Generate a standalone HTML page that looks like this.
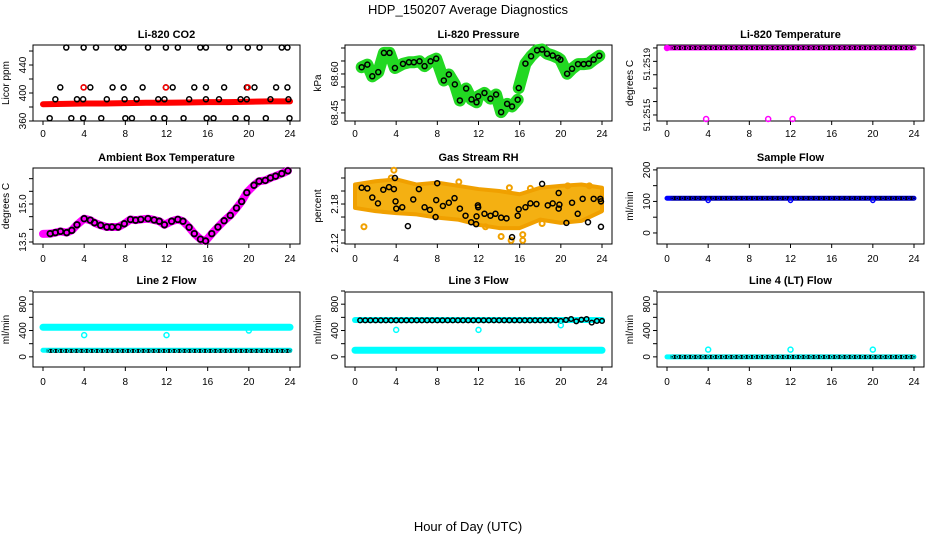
<!DOCTYPE html>
<html><head><meta charset="utf-8"><style>
html,body{margin:0;padding:0;background:#fff}
svg{display:block;font-family:"Liberation Sans",sans-serif}
</style></head><body>
<svg id="chart" width="936" height="540" viewBox="0 0 936 540" xmlns="http://www.w3.org/2000/svg">
<text x="468" y="14" text-anchor="middle" font-size="13">HDP_150207  Average Diagnostics</text>
<text x="468" y="531" text-anchor="middle" font-size="13">Hour of Day (UTC)</text>
</svg>
<script>
// ---------- DATA ----------
const hourTicks = [0,4,8,12,16,20,24];
const hrs = [0.5,1,1.5,2,2.5,3,3.5,4,4.5,5,5.5,6,6.5,7,7.5,8,8.5,9,9.5,10,10.5,11,11.5,12,12.5,13,13.5,14,14.5,15,15.5,16,16.5,17,17.5,18,18.5,19,19.5,20,20.5,21,21.5,22,22.5,23,23.5,24];
// CO2
const co2BandHours = [0,2,4,6,8,10,12,14,16,18,20,22,24];
const co2BandVals = [384,384.5,385,385,385.5,386,386,386.5,387,387,387.5,388,388];
const co2PtHours = [2.26,3.95,5.15,7.25,7.83,10.2,11.94,13.1,15.28,15.83,18.1,19.9,21.04,23.2,23.75,
 1.68,3.95,4.6,6.76,7.83,9.68,11.94,12.6,14.7,15.83,17.6,19.8,20.55,22.65,23.75,
 1.2,3.3,3.9,6.2,7.93,9.1,11.2,11.8,14.2,15.83,17.1,19.2,19.8,22.1,23.85,
 0.65,2.75,3.9,5.66,8,8.64,10.74,11.8,13.66,15.9,16.57,18.7,19.8,21.65,23.95];
const co2PtVals = [465,465,465,465,465,465,465,465,465,465,465,465,465,465,465,
 408,408,408,408,408,408,408,408,408,408,408,408,408,408,408,
 391,391,391,391,391,391,391,391,391,391,391,391,391,391,391,
 364,364,364,364,364,364,364,364,364,364,364,364,364,364,364];
const co2RedHours = [3.95,11.94,19.9];
const co2RedVals = [408,408,408];
// Pressure
const presHours = [0.65,1.2,1.68,2.26,2.81,3.36,3.88,4.66,5.24,5.72,6.27,6.76,7.34,7.89,8.63,9.12,9.70,10.19,10.80,11.32,11.81,11.97,12.58,13.16,13.71,14.2,14.78,15.26,15.81,15.91,16.56,17.11,17.69,18.18,18.66,19.21,19.73,19.96,20.61,21.09,21.67,22.22,22.71,23.19,23.74];
const presVals = [68.626,68.636,68.591,68.607,68.681,68.681,68.623,68.639,68.645,68.645,68.649,68.630,68.649,68.659,68.575,68.598,68.560,68.498,68.544,68.502,68.491,68.514,68.527,68.505,68.521,68.453,68.485,68.475,68.501,68.546,68.640,68.668,68.691,68.694,68.678,68.671,68.662,68.655,68.601,68.620,68.638,68.638,68.640,68.655,68.670];
// Li-820 temperature
const tempTop = [51.2519,51.2519,51.2519,51.2519,51.2519,51.2519,51.2519,51.2519,51.2519,51.2519,51.2519,51.2519,51.2519,51.2519,51.2519,51.2519,51.2519,51.2519,51.2519,51.2519,51.2519,51.2519,51.2519,51.2519,51.2519,51.2519,51.2519,51.2519,51.2519,51.2519,51.2519,51.2519,51.2519,51.2519,51.2519,51.2519,51.2519,51.2519,51.2519,51.2519,51.2519,51.2519,51.2519,51.2519,51.2519,51.2519,51.2519,51.2519];
const tempOutHours = [0,3.8,9.83,12.2];
const tempOutVals = [51.2519,51.25137,51.25137,51.25137];
// Ambient box temperature
const ambHours = [0.7,1.2,1.7,2.3,2.8,3.3,4.0,4.6,5.0,5.6,6.2,6.7,7.3,7.9,8.5,9.0,9.5,10.2,10.8,11.3,11.8,12.5,13.1,13.6,14.2,14.7,15.3,15.8,16.4,17.0,17.6,18.2,18.8,19.3,19.8,20.5,21.0,21.6,22.1,22.6,23.2,23.8];
const ambVals = [13.83,13.87,13.92,13.87,13.96,14.18,14.42,14.36,14.26,14.16,14.09,14.09,14.09,14.22,14.39,14.36,14.39,14.42,14.37,14.32,14.18,14.32,14.39,14.32,14.08,13.83,13.61,13.54,13.83,14.09,14.34,14.55,14.84,15.10,15.45,15.74,15.90,15.93,16.03,16.10,16.20,16.31];
// Gas stream RH
const rhEnvHours = [0,2,4,6,8,10,12,14,16,18,20,22,24];
const rhUpper = [2.210,2.215,2.218,2.210,2.213,2.208,2.203,2.200,2.195,2.205,2.208,2.210,2.205];
const rhLower = [2.174,2.169,2.166,2.164,2.159,2.156,2.148,2.143,2.143,2.156,2.151,2.154,2.169];
const rhOrangeHours = [0.87,3.78,3.52,10.09,14.2,15.17,16.3,16.3,15.0,17.04,20.67,22.77,18.18,12.68];
const rhOrangeVals = [2.145,2.232,2.220,2.214,2.130,2.124,2.133,2.124,2.205,2.204,2.208,2.208,2.150,2.145];
const rhPtHours = [0.65,1.2,1.68,2.23,2.75,3.3,3.78,3.88,3.94,4.01,4.59,5.14,5.66,6.21,6.76,7.28,7.83,7.89,7.99,8.54,9.12,9.67,10.19,10.74,11.29,11.77,11.81,11.94,11.97,12.58,13.16,13.65,14.2,14.72,15.26,15.81,15.91,16.56,17.04,17.63,18.18,18.73,19.21,19.79,19.79,19.86,20.54,21.09,21.64,22.12,22.64,23.19,23.84,23.90,23.90];
const rhPtVals = [2.205,2.204,2.190,2.181,2.202,2.206,2.203,2.220,2.184,2.173,2.175,2.146,2.187,2.203,2.175,2.171,2.160,2.186,2.212,2.177,2.182,2.189,2.173,2.162,2.152,2.149,2.161,2.178,2.175,2.165,2.162,2.165,2.159,2.158,2.129,2.162,2.172,2.175,2.181,2.180,2.211,2.178,2.181,2.197,2.173,2.179,2.151,2.182,2.165,2.188,2.152,2.188,2.188,2.184,2.145];
// Sample flow
const sampleVals = [110,110,110,110,110,110,110,110,110,110,110,110,110,110,110,110,110,110,110,110,110,110,110,110,110,110,110,110,110,110,110,110,110,110,110,110,110,110,110,110,110,110,110,110,110,110,110,110];
const sampleOutHours = [4,12,20];
const sampleOutVals = [103,103,103];
// Line 2 flow
const l2High = 450, l2Low = 100;
const l2Black = [90,90,90,90,90,90,90,90,90,90,90,90,90,90,90,90,90,90,90,90,90,90,90,90,90,90,90,90,90,90,90,90,90,90,90,90,90,90,90,90,90,90,90,90,90,90,90,90];
const l2OutHours = [4,12,20];
const l2OutVals = [330,330,400];
// Line 3 flow
const l3High = 560, l3Low = 100;
const l3Black = [555,555,555,555,555,555,555,555,555,555,555,555,555,555,555,555,555,555,555,555,555,555,555,555,555,555,555,555,555,555,555,555,555,555,555,555,555,555,555,545,560,575,540,565,575,520,545,545];
const l3OutHours = [4,12,20];
const l3OutVals = [410,410,480];
// Line 4 flow
const l4Black = [0,0,0,0,0,0,0,0,0,0,0,0,0,0,0,0,0,0,0,0,0,0,0,0,0,0,0,0,0,0,0,0,0,0,0,0,0,0,0,0,0,0,0,0,0,0,0,0];
const l4OutHours = [4,12,20];
const l4OutVals = [110,110,110];

// ---------- DRAWING ----------
const svg = document.getElementById('chart');
const NS = 'http://www.w3.org/2000/svg';
function mk(tag, attrs, parent){
  const e = document.createElementNS(NS, tag);
  for (const k in attrs) e.setAttribute(k, attrs[k]);
  (parent||svg).appendChild(e);
  return e;
}
const colL = [33,345,657], W = 267;
const rowT = [45,168,292], rowB = [121,244,367];
const tickLabY = [137,262,385], titleY = [38,161,284];

function panel(c, r, name, title, ylab, vb, vt, yticks, ylabels, anchors, fs){
  const g = mk('g', {});
  
  
  const L = colL[c], T = rowT[r], B = rowB[r];
  const sx = h => L + 10 + h * (247/24);
  const sy = v => B - (v - vb) / (vt - vb) * (B - T);
  const box = mk('rect', {x:L, y:T, width:W, height:B-T, fill:'none', stroke:'#000', 'stroke-width':1}, g);
  
  
  const t = mk('text', {x:L+W/2, y:titleY[r], 'text-anchor':'middle', 'font-size':11, 'font-weight':'bold'}, g);
  t.textContent = title;
  
  
  const yl = mk('text', {transform:`translate(${L-24},${(T+B)/2}) rotate(-90)`, 'text-anchor':'middle', 'font-size':10}, g);
  yl.textContent = ylab;
  
  
  hourTicks.forEach(h => {
    mk('line', {x1:sx(h), x2:sx(h), y1:B, y2:B+4, stroke:'#000'}, g);
    const tl = mk('text', {x:sx(h), y:tickLabY[r], 'text-anchor':'middle', 'font-size':10}, g);
    tl.textContent = h;
    
    
  });
  yticks.forEach((v,i) => {
    mk('line', {x1:L-4, x2:L, y1:sy(v), y2:sy(v), stroke:'#000'}, g);
    if (ylabels[i]) {
      const tl = mk('text', {transform:`translate(${L-7},${sy(v)}) rotate(-90)`, 'text-anchor':(anchors&&anchors[i])||'middle', 'font-size':fs||10}, g);
      tl.textContent = ylabels[i];
      
      
    }
  });
  return {g, sx, sy};
}
function circles(p, hs, vs, color, name, r, sw){
  hs.forEach((h,i) => {
    const e = mk('circle', {cx:p.sx(h), cy:p.sy(vs[i]), r:r||2.5, fill:'none', stroke:color, 'stroke-width':sw||1.5}, p.g);
    
    
  });
}
function band(p, hs, vs, color, w, name){
  const pts = hs.map((h,i)=>p.sx(h)+','+p.sy(vs[i])).join(' ');
  const e = mk('polyline', {points:pts, fill:'none', stroke:color, 'stroke-width':w, 'stroke-linejoin':'round', 'stroke-linecap':'round'}, p.g);
  
  
}

// Panel 1: CO2
let p = panel(0,0,'co2','Li-820 CO2','Licor ppm',360,468.6,[360,380,400,420,440,460],['360','','400','','440','']);
band(p, co2BandHours, co2BandVals, '#ff0000', 6, 'co2-red-band');
circles(p, co2PtHours, co2PtVals, '#000', 'co2-point');
circles(p, co2RedHours, co2RedVals, '#ff0000', 'co2-red-point');

// Panel 2: pressure
p = panel(1,0,'pressure','Li-820 Pressure','kPa',68.419,68.7115,[68.45,68.5,68.55,68.6,68.65,68.7],['68.45','','','68.60','','']);
band(p, presHours.slice(0,29), presVals.slice(0,29), '#22d822', 12, 'pressure-green-band');
band(p, presHours.slice(29), presVals.slice(29), '#22d822', 12, 'pressure-green-band');
circles(p, presHours, presVals, '#000', 'pressure-point');

// Panel 3: Li-820 temperature
p = panel(2,0,'li820-temp','Li-820 Temperature','degrees C',51.251355,51.251922,[51.2519,51.2518,51.2517,51.2516,51.2515,51.2514],['51.2519','','','','','51.2515'],['end','','','','','middle'],9);
band(p, [0,24], [51.2519,51.2519], '#ff00ff', 5, 'li820-temp-magenta-band');
band(p, hrs, tempTop, '#000', 4, 'li820-temp-black-band');
circles(p, hrs, tempTop, '#ff00ff', 'li820-temp-point', 1.3, 1);
circles(p, tempOutHours, tempOutVals, '#ff00ff', 'li820-temp-outlier');

// Panel 4: ambient
p = panel(0,1,'ambient-temp','Ambient Box Temperature','degrees C',13.421,16.421,[13.5,14,14.5,15,15.5,16],['13.5','','','15.0','','']);
band(p, [0].concat(ambHours), [13.82].concat(ambVals), '#ff00ff', 8, 'ambient-magenta-band');
circles(p, ambHours, ambVals, '#000', 'ambient-point', 2.8, 1.8);

// Panel 5: RH
p = panel(1,1,'gas-rh','Gas Stream RH','percent',2.1185,2.2354,[2.12,2.14,2.16,2.18,2.20,2.22],['2.12','','','2.18','','']);
{
  const up = rhEnvHours.map((h,i)=>p.sx(h)+','+p.sy(rhUpper[i]));
  const lo = rhEnvHours.map((h,i)=>p.sx(h)+','+p.sy(rhLower[i])).reverse();
  const e = mk('polygon', {points:up.concat(lo).join(' '), fill:'#f4b012', stroke:'#f0a000', 'stroke-width':4, 'stroke-linejoin':'round'}, p.g);
  
  
}
circles(p, rhOrangeHours, rhOrangeVals, '#f0a000', 'gas-rh-orange-point', 2.5, 2);
circles(p, rhPtHours, rhPtVals, '#000', 'gas-rh-point');

// Panel 6: sample flow
p = panel(2,1,'sample-flow','Sample Flow','ml/min',-35,206,[0,50,100,150,200],['0','','100','','200']);
band(p, [0,24], [110,110], '#0000ff', 5, 'sample-flow-blue-band');
band(p, hrs, sampleVals, '#000', 4, 'sample-flow-black-band');
circles(p, hrs, sampleVals, '#0000ff', 'sample-flow-point', 1.3, 1);
circles(p, sampleOutHours, sampleOutVals, '#0000ff', 'sample-flow-outlier', 2, 1.5);

const flowTicks = [0,200,400,600,800,1000], flowLabs = ['0','','400','','800',''];
// Panel 7: line 2
p = panel(0,2,'line2-flow','Line 2 Flow','ml/min',-154,985,flowTicks,flowLabs);
band(p, [0,24], [l2High,l2High], '#00ffff', 7, 'line2-cyan-high-band');
band(p, [0,24], [l2Low,l2Low], '#00ffff', 5, 'line2-cyan-low-band');
band(p, hrs, l2Black, '#000', 4, 'line2-black-band');
circles(p, hrs, l2Black, '#00ffff', 'line2-point', 1.3, 1);
circles(p, l2OutHours, l2OutVals, '#00ffff', 'line2-outlier');

// Panel 8: line 3
p = panel(1,2,'line3-flow','Line 3 Flow','ml/min',-154,985,flowTicks,flowLabs);
band(p, [0,24], [l3High,l3High], '#00ffff', 6, 'line3-cyan-high-band');
band(p, [0,24], [l3Low,l3Low], '#00ffff', 7, 'line3-cyan-low-band');
circles(p, hrs, l3Black, '#000', 'line3-point', 2.3, 1.5);
circles(p, l3OutHours, l3OutVals, '#00ffff', 'line3-outlier');

// Panel 9: line 4
p = panel(2,2,'line4-flow','Line 4 (LT) Flow','ml/min',-154,985,flowTicks,flowLabs);
band(p, [0,24], [0,0], '#00ffff', 5, 'line4-cyan-band');
band(p, hrs, l4Black, '#000', 4, 'line4-black-band');
circles(p, hrs, l4Black, '#00ffff', 'line4-point', 1.3, 1);
circles(p, l4OutHours, l4OutVals, '#00ffff', 'line4-outlier');
</script>
</body></html>
